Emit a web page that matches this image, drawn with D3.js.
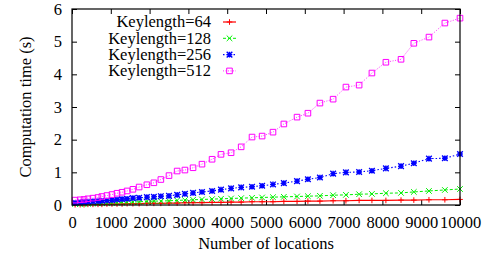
<!DOCTYPE html>
<html>
<head>
<meta charset="utf-8">
<script src="https://cdn.jsdelivr.net/npm/d3@7"></script>
<style>
  body { margin: 0; background: #fff; }
  text { font-family: "Liberation Serif", "DejaVu Serif", serif; fill: #000; }
</style>
</head>
<body>
<div id="chart"></div>
<script>
// x values (number of locations)
var locations = [80, 210, 310, 410, 540, 670, 770, 900, 1030, 1160, 1290, 1420, 1570, 1730, 1930, 2110, 2290, 2500, 2710, 2910,
    3120, 3350, 3610, 3840, 4100, 4360, 4640, 4900, 5180, 5460, 5800, 6080, 6390, 6730, 7060, 7400, 7730, 8090, 8480, 8810,
    9200, 9610, 10000];

// computation time (s) per key length
var time64 = [0.01, 0.01, 0.01, 0.02, 0.02, 0.02, 0.02, 0.03, 0.03, 0.03, 0.03, 0.04, 0.04, 0.04, 0.05, 0.05, 0.05, 0.06, 0.06, 0.07,
    0.07, 0.07, 0.08, 0.08, 0.09, 0.09, 0.10, 0.10, 0.10, 0.11, 0.11, 0.12, 0.12, 0.13, 0.13, 0.14, 0.14, 0.14, 0.15, 0.15,
    0.16, 0.16, 0.17];
var time128 = [0.03, 0.03, 0.04, 0.04, 0.05, 0.05, 0.06, 0.06, 0.07, 0.07, 0.08, 0.08, 0.09, 0.10, 0.11, 0.12, 0.12, 0.13, 0.14, 0.15,
    0.16, 0.17, 0.18, 0.19, 0.20, 0.21, 0.22, 0.23, 0.24, 0.25, 0.26, 0.27, 0.28, 0.30, 0.31, 0.33, 0.34, 0.36, 0.37, 0.40,
    0.43, 0.46, 0.49];
var time256 = [0.07, 0.08, 0.09, 0.10, 0.11, 0.12, 0.13, 0.14, 0.15, 0.17, 0.18, 0.19, 0.21, 0.22, 0.24, 0.25, 0.27, 0.28, 0.31, 0.34,
    0.37, 0.40, 0.43, 0.47, 0.51, 0.54, 0.56, 0.59, 0.63, 0.67, 0.73, 0.79, 0.84, 0.96, 1.00, 1.01, 1.05, 1.12, 1.19, 1.28,
    1.42, 1.43, 1.56];
var time512 = [0.15, 0.16, 0.17, 0.19, 0.21, 0.23, 0.26, 0.29, 0.32, 0.36, 0.39, 0.43, 0.48, 0.55, 0.62, 0.68, 0.78, 0.90, 1.04, 1.07,
    1.14, 1.25, 1.40, 1.55, 1.60, 1.78, 2.08, 2.11, 2.23, 2.48, 2.69, 2.81, 3.12, 3.24, 3.61, 3.67, 4.04, 4.37, 4.46, 4.95,
    5.14, 5.57, 5.72];

var seriesNames = ["Keylength=64", "Keylength=128", "Keylength=256", "Keylength=512"];
var xTicks = [0, 1000, 2000, 3000, 4000, 5000, 6000, 7000, 8000, 9000, 10000];
var yTicks = [0, 1, 2, 3, 4, 5, 6];

var series = [
    { name: seriesNames[0], values: time64, color: "#ff0000", dash: null, width: 1.2, marker: "plus" },
    { name: seriesNames[1], values: time128, color: "#00f000", dash: "3,2", width: 1, marker: "cross" },
    { name: seriesNames[2], values: time256, color: "#0000ff", dash: "1.5,2", width: 1.1, marker: "star" },
    { name: seriesNames[3], values: time512, color: "#ff00ff", dash: "1,1.5", width: 0.8, marker: "square" }
];

var margin = { top: 9, right: 32, bottom: 55, left: 72 },
    W = 492, H = 260,
    width = W - margin.left - margin.right,
    height = H - margin.top - margin.bottom;

var svg = d3.select("#chart").append("svg")
    .attr("width", W)
    .attr("height", H),
    g = svg.append("g")
    .attr("transform", "translate(" + margin.left + "," + margin.top + ")");

var x = d3.scaleLinear().domain([0, 10000]).range([0, width]);
var y = d3.scaleLinear().domain([0, 6]).range([height, 0]);

// marker shapes
function markerPath(type) {
    var s = 2.8;
    if (type == "plus") return "M" + (-s) + ",0H" + s + "M0," + (-s) + "V" + s;
    if (type == "cross") return "M" + (-s) + "," + (-s) + "L" + s + "," + s + "M" + s + "," + (-s) + "L" + (-s) + "," + s;
    if (type == "star") return "M" + (-s) + ",0H" + s + "M0," + (-s) + "V" + s +
        "M" + (-s) + "," + (-s) + "L" + s + "," + s + "M" + s + "," + (-s) + "L" + (-s) + "," + s;
    return "M-2.8,-2.8H2.8V2.8H-2.8Z";
}

var fontSize = "16.5px";

// axes: ticks inward on all four sides
var bottomAxis = d3.axisBottom(x).tickValues(xTicks).tickSize(-5).tickPadding(11).tickFormat(d3.format("d"));
var topAxis = d3.axisTop(x).tickValues(xTicks).tickSize(-5).tickFormat("");
var leftAxis = d3.axisLeft(y).tickValues(yTicks).tickSize(-5).tickPadding(10).tickFormat(d3.format("d"));
var rightAxis = d3.axisRight(y).tickValues(yTicks).tickSize(-5).tickFormat("");

function styleAxis(sel) {
    sel.select(".domain").remove();
    sel.selectAll("line").attr("stroke", "#000").attr("stroke-width", 1);
    sel.selectAll("text").style("font-size", fontSize).attr("fill", "#000")
        .style("font-family", "'Liberation Serif', serif");
}

g.append("g").attr("transform", "translate(0," + height + ")").call(bottomAxis).call(styleAxis);
g.append("g").call(topAxis).call(styleAxis);
g.append("g").call(leftAxis).call(styleAxis);
g.append("g").attr("transform", "translate(" + width + ",0)").call(rightAxis).call(styleAxis);

// series lines + markers
var line = d3.line()
    .x(function(d, i) { return x(locations[i]); })
    .y(function(d) { return y(d); });

series.forEach(function(s) {
    g.append("path")
        .datum(s.values)
        .attr("fill", "none")
        .attr("stroke", s.color)
        .attr("stroke-width", s.width)
        .attr("stroke-dasharray", s.dash)
        .attr("d", line);

    g.selectAll(".pt-" + s.marker)
        .data(s.values)
        .enter().append("path")
        .attr("class", "pt-" + s.marker)
        .attr("transform", function(d, i) { return "translate(" + x(locations[i]) + "," + y(d) + ")"; })
        .attr("d", markerPath(s.marker))
        .attr("fill", "none")
        .attr("stroke", s.color)
        .attr("stroke-width", s.marker == "star" ? 1.4 : 1);
});

// border
g.append("rect")
    .attr("width", width)
    .attr("height", height)
    .attr("fill", "none")
    .attr("stroke", "#000")
    .attr("stroke-width", 1.2);

// legend
var legend = g.append("g").attr("transform", "translate(139,13)");
series.forEach(function(s, i) {
    var row = legend.append("g").attr("transform", "translate(0," + (i * 16.3) + ")");
    row.append("text")
        .attr("x", 0)
        .attr("y", 0)
        .attr("dy", "0.33em")
        .attr("text-anchor", "end")
        .style("font-size", fontSize)
        .text(s.name);
    row.append("line")
        .attr("x1", 12).attr("x2", 25)
        .attr("stroke", s.color)
        .attr("stroke-width", s.width)
        .attr("stroke-dasharray", s.dash);
    row.append("path")
        .attr("transform", "translate(18.5,0)")
        .attr("d", markerPath(s.marker))
        .attr("fill", "none")
        .attr("stroke", s.color)
        .attr("stroke-width", s.marker == "star" ? 1.4 : 1);
});

// axis titles
svg.append("text")
    .attr("x", margin.left + width / 2)
    .attr("y", 249)
    .attr("text-anchor", "middle")
    .style("font-size", fontSize)
    .text("Number of locations");

svg.append("text")
    .attr("transform", "translate(31," + (margin.top + height / 2) + ") rotate(-90)")
    .attr("text-anchor", "middle")
    .style("font-size", fontSize)
    .text("Computation time (s)");
</script>
</body>
</html>
